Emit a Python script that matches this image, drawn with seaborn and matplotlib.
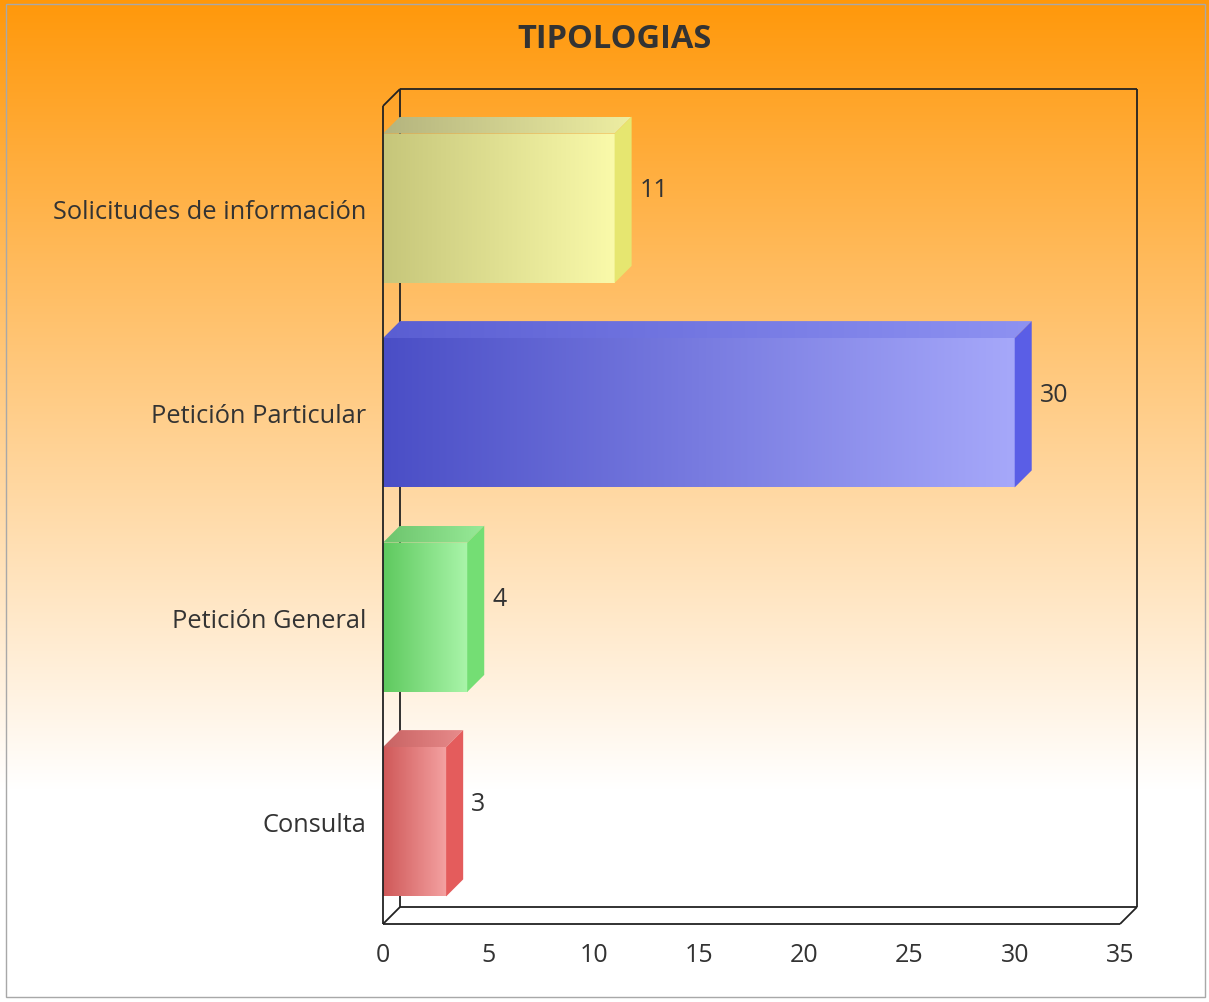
import numpy as np
import pandas as pd
import matplotlib
matplotlib.use("Agg")
import matplotlib.pyplot as plt
from matplotlib.patches import Polygon, Rectangle
from matplotlib.colors import LinearSegmentedColormap, to_rgb
import seaborn as sns

categories = ["Solicitudes de información", "Petición Particular", "Petición General", "Consulta"]
values = [11, 30, 4, 3]
x_ticks = [0, 5, 10, 15, 20, 25, 30, 35]
title = "TIPOLOGIAS"

front_left = ["#c6c67a", "#4a4ec6", "#5ec95e", "#cf5858"]
front_right = ["#fafaaa", "#a6a8fa", "#aaf5aa", "#f4a2a2"]
side_col = ["#e6e670", "#5a5ee6", "#74de74", "#e45c5c"]
top_left = ["#b4b47e", "#5a5ed2", "#6cc46c", "#c86262"]
top_right = ["#eeeea2", "#8e92f2", "#98ea98", "#e88c8c"]

sns.set_theme(style="white")
plt.rcParams['font.family'] = ['Open Sans', 'DejaVu Sans']

W, H = 1209, 1003
fig = plt.figure(figsize=(W / 100, H / 100), dpi=100)

# background gradient
bg_ax = fig.add_axes([0, 0, 1, 1])
bg_ax.set_axis_off()
rows = np.arange(H)
t = np.clip(rows / 790.0, 0, 1)[:, None]
top_c = np.array([255, 152, 10]) / 255.0
white = np.ones(3)
grad = top_c * (1 - t) + white * t
img = np.repeat(grad[:, None, :], 4, axis=1)
bg_ax.imshow(img, aspect="auto", extent=(0, 1, 0, 1), origin="upper")
bg_ax.set_xlim(0, 1)
bg_ax.set_ylim(0, 1)
bg_ax.add_patch(Rectangle((6 / W, 5 / H), 1199 / W, 993 / H, fill=False,
                          edgecolor="#a8a8a8", lw=1.0))

# main axes = front plot area
L, R, B, T = 383, 1120, 925, 107
ax = fig.add_axes([L / W, (H - B) / H, (R - L) / W, (B - T) / H])
ax.patch.set_alpha(0)

df = pd.DataFrame({"cat": categories, "val": values})
sns.barplot(data=df, x="val", y="cat", orient="h", width=0.73, ax=ax,
            color="#cccccc", zorder=3)

ax.set_xlim(0, 35)
ax.set_ylim(3.5, -0.5)
dxu = 17 / ((R - L) / 35.0)
dyu = 17 / ((B - T) / 4.0)

for sp in ax.spines.values():
    sp.set_visible(False)

lc = "#222222"
lw = 1.3
def line(xs, ys, z=1):
    ax.plot(xs, ys, color=lc, lw=lw, clip_on=False, zorder=z, solid_capstyle="butt")

line([0, 0], [3.5, -0.5], z=6)              # front left
line([0, 35], [3.5, 3.5], z=6)              # front bottom
line([dxu, dxu], [3.5 - dyu, -0.5 - dyu])   # back left
line([dxu, 35 + dxu], [-0.5 - dyu, -0.5 - dyu])  # back top
line([35 + dxu, 35 + dxu], [-0.5 - dyu, 3.5 - dyu])  # back right
line([dxu, 35 + dxu], [3.5 - dyu, 3.5 - dyu])  # back bottom
line([0, dxu], [-0.5, -0.5 - dyu])
line([0, dxu], [3.5, 3.5 - dyu])
line([35, 35 + dxu], [3.5, 3.5 - dyu])

def hgrad(c1, c2):
    return LinearSegmentedColormap.from_list("g", [to_rgb(c1), to_rgb(c2)])

gimg = np.linspace(0, 1, 256)[None, :]
for i, p in enumerate(ax.patches):
    w = p.get_width()
    y0 = p.get_y()
    h = p.get_height()
    p.set_facecolor("none")
    p.set_edgecolor("none")
    im = ax.imshow(gimg, cmap=hgrad(front_left[i], front_right[i]), aspect="auto",
                   extent=(0, w, y0 + h, y0), zorder=4, interpolation="bilinear")
    im.set_clip_path(p)
    top = Polygon([(0, y0), (w, y0), (w + dxu, y0 - dyu), (dxu, y0 - dyu)],
                  closed=True, facecolor="none", edgecolor="none", zorder=4)
    ax.add_patch(top)
    im2 = ax.imshow(gimg, cmap=hgrad(top_left[i], top_right[i]), aspect="auto",
                    extent=(0, w + dxu, y0, y0 - dyu), zorder=4, interpolation="bilinear")
    im2.set_clip_path(top)
    side = Polygon([(w, y0), (w + dxu, y0 - dyu), (w + dxu, y0 + h - dyu), (w, y0 + h)],
                   closed=True, facecolor=side_col[i], edgecolor="none", zorder=4)
    ax.add_patch(side)
    ax.text(w + dxu + 0.38, y0 + h / 2 - 0.09, str(values[i]), ha="left", va="center",
            fontsize=18, color="#333333", zorder=7)

ax.set_xlim(0, 35)
ax.set_ylim(3.5, -0.5)
ax.set_xticks(x_ticks)
ax.set_xticklabels([str(v) for v in x_ticks], fontsize=18, color="#333333")
ax.set_yticks(range(len(categories)))
ax.set_yticklabels(categories, fontsize=18.3, color="#333333")
ax.tick_params(axis="x", length=0, pad=13)
ax.tick_params(axis="y", length=0, pad=12)
ax.set_xlabel("")
ax.set_ylabel("")
ax.grid(False)

fig.text(615 / W, 1 - 40 / H, title, ha="center", va="center", fontsize=23.5,
         fontweight="bold", color="#333333")

fig.savefig("out.png", dpi=100)
